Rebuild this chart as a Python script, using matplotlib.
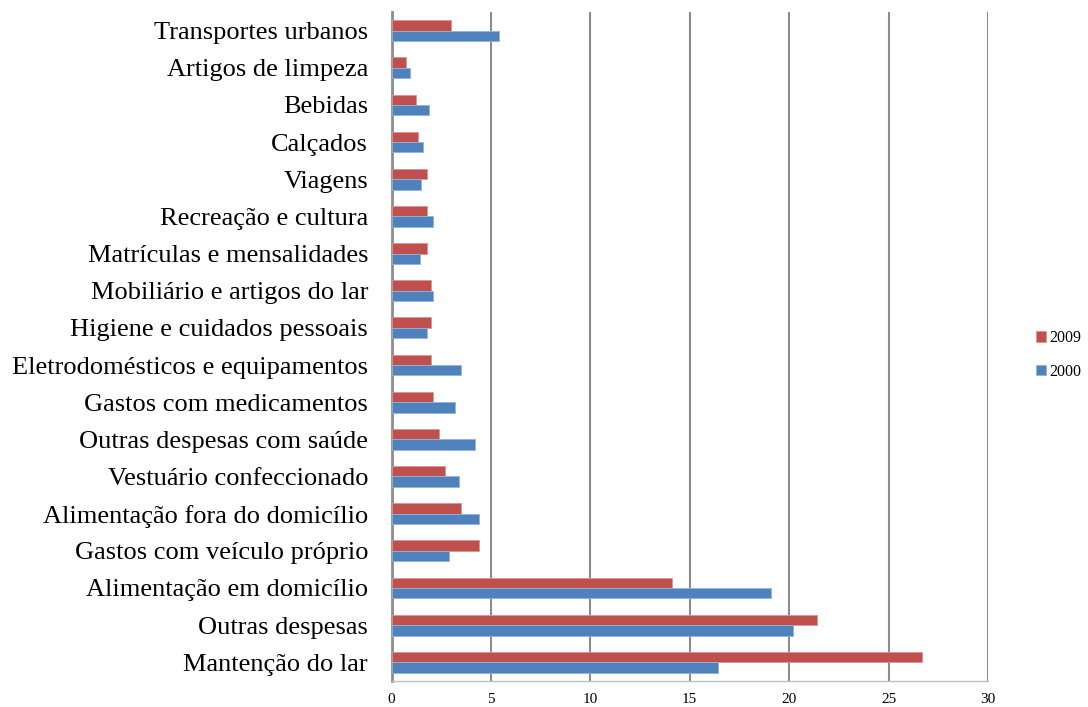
import numpy as np
import matplotlib.pyplot as plt

plt.rcParams['font.family'] = ['Liberation Serif', 'DejaVu Serif']

# categories from bottom to top
categorias = ["Mantenção do lar", "Outras despesas", "Alimentação em domicílio",
              "Gastos com veículo próprio", "Alimentação fora do domicílio",
              "Vestuário confeccionado", "Outras despesas com saúde",
              "Gastos com medicamentos", "Eletrodomésticos e equipamentos",
              "Higiene e cuidados pessoais", "Mobiliário e artigos do lar",
              "Matrículas e mensalidades", "Recreação e cultura", "Viagens",
              "Calçados", "Bebidas", "Artigos de limpeza", "Transportes urbanos"]
v2009 = [26.7, 21.4, 14.1, 4.4, 3.5, 2.7, 2.4, 2.1, 2.0,
         2.0, 2.0, 1.8, 1.8, 1.8, 1.3, 1.2, 0.7, 3.0]
v2000 = [16.4, 20.2, 19.1, 2.9, 4.4, 3.4, 4.2, 3.2, 3.5,
         1.8, 2.1, 1.4, 2.1, 1.5, 1.6, 1.9, 0.9, 5.4]
xticks = [0, 5, 10, 15, 20, 25, 30]

fig = plt.figure(figsize=(10.88, 7.07), dpi=100)
ax = fig.add_axes([0.360, 0.037, 0.548, 0.946])

y = np.arange(len(categorias))
h = 0.28
ax.barh(y + h / 2, v2009, height=h, color="#C0504D", edgecolor="#D99694",
        linewidth=0.6, label="2009", zorder=3)
ax.barh(y - h / 2, v2000, height=h, color="#4F81BD", edgecolor="#95B3D7",
        linewidth=0.6, label="2000", zorder=3)

ax.set_xlim(0, 30)
ax.set_ylim(-0.5, len(categorias) - 0.5)
ax.set_xticks(xticks)
ax.set_xticklabels([str(t) for t in xticks], fontsize=11)
ax.set_yticks(y)
ax.set_yticklabels(categorias, fontsize=19)
ax.tick_params(axis='both', length=0)
ax.tick_params(axis='x', pad=9)
ax.tick_params(axis='y', pad=17)

ax.grid(axis='x', color="#8C8C8C", linewidth=1.5, zorder=0)
for s in ["top", "right"]:
    ax.spines[s].set_visible(False)
ax.spines["left"].set_color("#8C8C8C")
ax.spines["left"].set_linewidth(2)
ax.spines["bottom"].set_color("#BFBFBF")
ax.spines["bottom"].set_linewidth(1)

leg = fig.legend(loc="center left", bbox_to_anchor=(0.939, 0.498), frameon=False,
                 fontsize=11.5, handlelength=0.6, handleheight=0.6,
                 handletextpad=0.25, labelspacing=1.1)

fig.savefig("out.png", dpi=100)
